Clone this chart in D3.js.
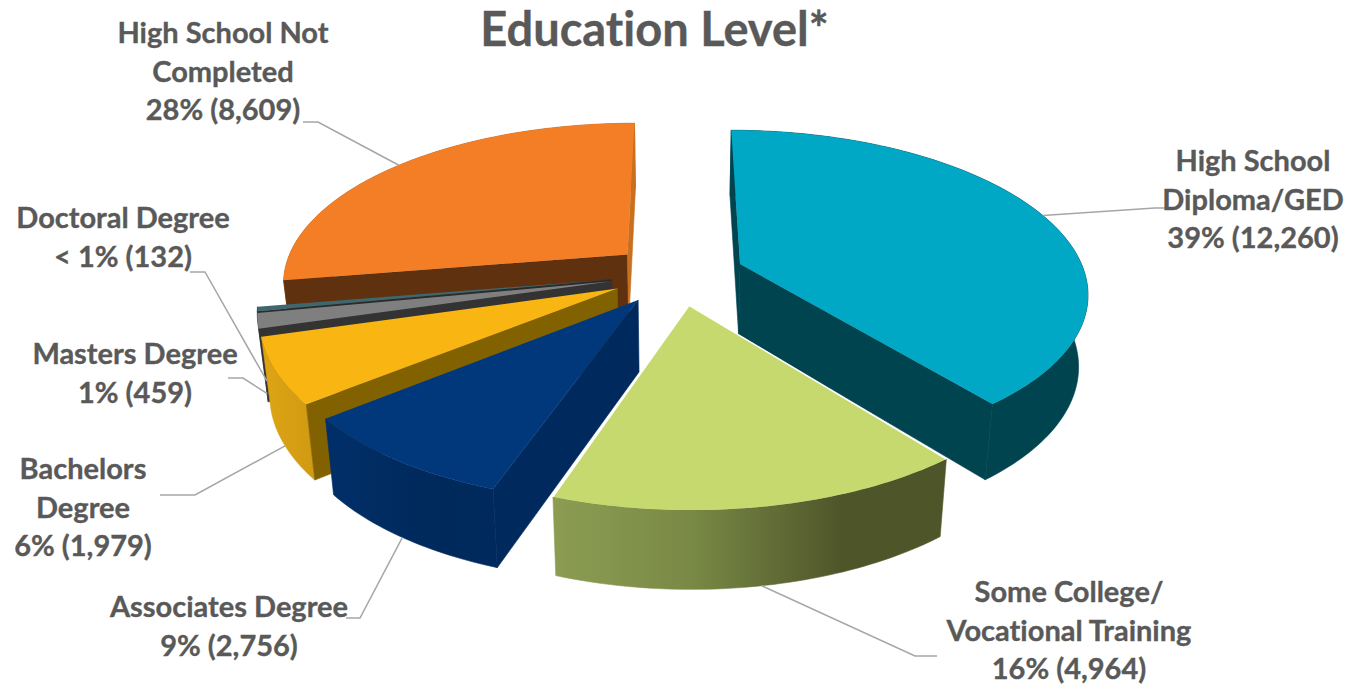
<!DOCTYPE html>
<html>
<head>
<meta charset="utf-8">
<title>Education Level</title>
<script src="https://cdn.jsdelivr.net/npm/d3@7/dist/d3.min.js"></script>
<style>
  html, body { margin: 0; background: #fff; }
  text { font-family: Lato, "Open Sans", sans-serif; font-weight: 700; fill: #595959; stroke: #595959; stroke-width: 0.35px; font-variant-ligatures: none; }
</style>
</head>
<body>
<svg id="chart" width="1350" height="685"></svg>
<script>
// Education data, clockwise from twelve o'clock
const categories = ["High School Diploma/GED", "Some College/Vocational Training", "Associates Degree",
  "Bachelors Degree", "Masters Degree", "Doctoral Degree", "High School Not Completed"];
const values = [12260, 4964, 2756, 1979, 459, 132, 8609];
const percentLabels = ["39%", "16%", "9%", "6%", "1%", "< 1%", "28%"];
const labelLines = [
  ["High School", "Diploma/GED"],
  ["Some College/", "Vocational Training"],
  ["Associates Degree"],
  ["Bachelors", "Degree"],
  ["Masters Degree"],
  ["Doctoral Degree"],
  ["High School Not", "Completed"]
];

// Face colours per slice: top, start cut, end cut, outer wall
const topColors   = ["#00a8c6", "#c6d96f", "#00387b", "#f9b612", "#7f7f7f", "#3f6770", "#f47e25"];
const startColors = ["#004450", "#4e5529", "#002a5e", "#826200", "#333333", "#2b2b2b", "#60310e"];
const endColors   = ["#004450", "#4e5529", "#002a5e", "#826200", "#333333", "#2b2b2b", "#c8701f"];
const wallColors  = ["#004450", "url(#wallGreen)", "url(#wallBlue)", "url(#wallGold)", "#333333", "#2b2b2b", "#b5631c"];

// Placement of each label block and the elbow of its leader
const labelX = [1253, 1069, 229, 83, 135, 123, 223];
const labelY = [159.5, 590.5, 605.5, 467.5, 352.5, 216.5, 31.5];
const lineGap = 38.6;
const elbows = [[1155, 208, 1165], [915, 656, 937], [360, 618, 346], [195, 495, 160], [243, 378, 228], [205, 272, 190], [318, 122, 303]];
const leaderFromTop = [true, false, false, false, false, false, true];

// Tilted disc seen in perspective
const view = { cx: 677.5, cy: 274, rx: 345, ry: 159, persp: 0.166, depth: 71, shrink: 0.977, explode: 0.194 };

function project(u, v, lower) {
  const p = 1 / (1 + view.persp * v);
  const k = lower ? view.shrink : 1;
  return [
    view.cx + u * view.rx * p * k,
    view.cy - v * view.ry * p + (lower ? view.depth * Math.sqrt(p) : 0)
  ];
}

const svg = d3.select("#chart");
const defs = svg.append("defs");
function gradient(id, x1, x2, stops) {
  const g = defs.append("linearGradient").attr("id", id).attr("gradientUnits", "userSpaceOnUse")
    .attr("x1", x1).attr("x2", x2).attr("y1", 0).attr("y2", 0);
  stops.forEach(([o, c]) => g.append("stop").attr("offset", o).attr("stop-color", c));
}
gradient("wallGreen", 552, 940, [[0, "#8c9d52"], [0.35, "#7a8a46"], [0.75, "#4e5529"], [1, "#4e5529"]]);
gradient("wallBlue", 322, 495, [[0, "#002f69"], [0.7, "#00295b"], [1, "#002a5e"]]);
gradient("wallGold", 268, 315, [[0, "#dca315"], [1, "#d09a12"]]);

const arcs = d3.pie().sort(null)(values);
const line = d3.line();

// Positive when the outline runs clockwise on screen
function clockwiseArea(pts) {
  return -d3.polygonArea(pts);
}

const slices = arcs.map((a, i) => {
  const mid = (a.startAngle + a.endAngle) / 2;
  const ou = Math.sin(mid) * view.explode;
  const ov = Math.cos(mid) * view.explode;
  const rim = (t, lower) => project(ou + Math.sin(t), ov + Math.cos(t), lower);
  const n = Math.max(4, Math.ceil((a.endAngle - a.startAngle) / 0.02));
  const angles = d3.range(n + 1).map(k => a.startAngle + (a.endAngle - a.startAngle) * k / n);
  return {
    i, mid, rim, angles,
    apex: project(ou, ov, false),
    apexLow: project(ou, ov, true)
  };
});

const plot = svg.append("g");
// Back-to-front painting order of the slices
const order = [6, 5, 4, 3, 2, 0, 1];

order.forEach(i => {
  const s = slices[i];
  const g = plot.append("g").attr("class", "slice");
  const a0 = s.angles[0], a1 = s.angles[s.angles.length - 1];

  // Outer wall
  const upper = s.angles.map(t => s.rim(t, false));
  const lower = s.angles.map(t => s.rim(t, true)).reverse();
  g.append("path").attr("d", line(upper.concat(lower)) + "Z")
    .attr("fill", wallColors[i]).attr("stroke", wallColors[i]).attr("stroke-width", 0.6);

  // Cut faces, drawn only when they turn toward the viewer
  const startFace = [s.apex, s.rim(a0, false), s.rim(a0, true), s.apexLow];
  const endFace = [s.apex, s.rim(a1, false), s.rim(a1, true), s.apexLow];
  if (clockwiseArea(startFace) < 0) {
    g.append("path").attr("d", line(startFace) + "Z")
      .attr("fill", startColors[i]).attr("stroke", startColors[i]).attr("stroke-width", 0.6);
  }
  if (clockwiseArea(endFace) > 0) {
    g.append("path").attr("d", line(endFace) + "Z")
      .attr("fill", endColors[i]).attr("stroke", endColors[i]).attr("stroke-width", 0.6);
  }

  // Top surface
  g.append("path").attr("d", line([s.apex].concat(upper)) + "Z").attr("fill", topColors[i]);

  // The training slice carries a white edge along its two straight sides
  if (i === 1) {
    g.append("path").attr("d", line([upper[0], s.apex, upper[upper.length - 1]]))
      .attr("fill", "none").attr("stroke", "#ffffff").attr("stroke-width", 1.5);
  }
});

// Leader lines run from the rim at each slice's middle angle
const leaders = svg.append("g").attr("fill", "none").attr("stroke", "#a6a6a6").attr("stroke-width", 1.5);
slices.forEach(s => {
  const from = s.rim(s.mid, !leaderFromTop[s.i]);
  const [ex, ey, tx] = elbows[s.i];
  leaders.append("path").attr("d", line([from, [ex, ey], [tx, ey]]));
});

// Labels
const fmt = d3.format(",");
categories.forEach((c, i) => {
  const rows = labelLines[i].concat(`${percentLabels[i]} (${fmt(values[i])})`);
  const t = svg.append("text").attr("text-anchor", "middle").attr("font-size", 29);
  rows.forEach((row, r) => {
    t.append("tspan").attr("x", labelX[i]).attr("y", labelY[i] + r * lineGap)
      .attr("dominant-baseline", "central").text(row);
  });
});

svg.append("text").attr("x", 654.5).attr("y", 28).attr("text-anchor", "middle")
  .attr("dominant-baseline", "central").attr("font-size", 47).text("Education Level*");
</script>
</body>
</html>
